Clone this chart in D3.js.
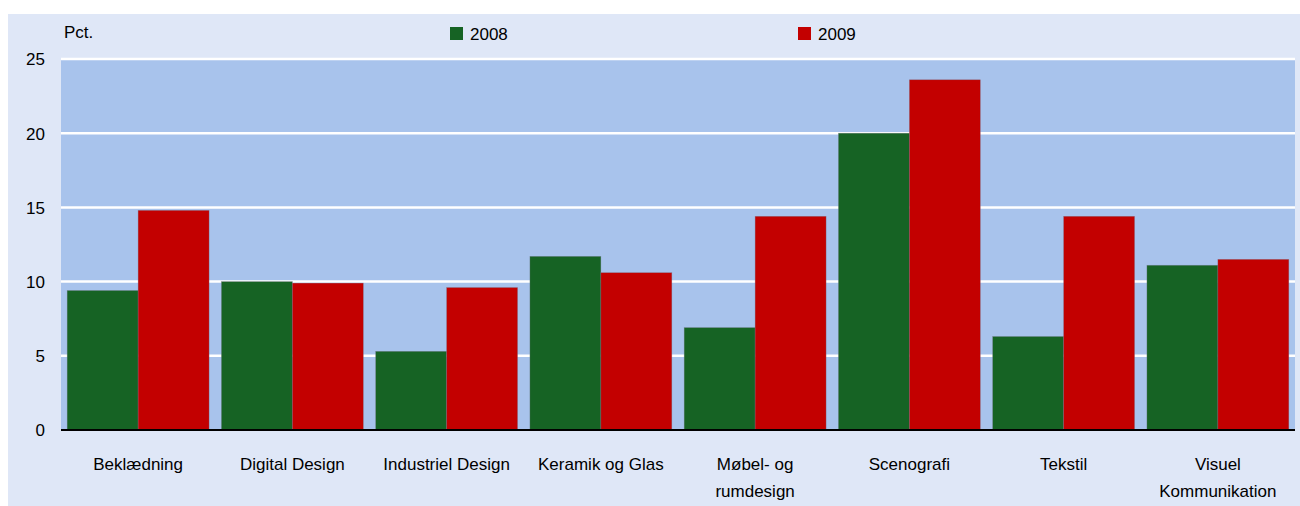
<!DOCTYPE html>
<html><head><meta charset="utf-8">
<script src="https://cdn.jsdelivr.net/npm/d3@7"></script>
<style>body{margin:0;background:#fff;}svg{display:block;font-family:"Liberation Sans",Arial,sans-serif;}</style>
</head><body>
<svg id="c" width="1300" height="506"></svg>
<script>
const categories = [["Beklædning"],["Digital Design"],["Industriel Design"],["Keramik og Glas"],["Møbel- og","rumdesign"],["Scenografi"],["Tekstil"],["Visuel","Kommunikation"]];
const series2008 = [9.4, 10.0, 5.3, 11.7, 6.9, 20.0, 6.3, 11.1];
const series2009 = [14.8, 9.9, 9.6, 10.6, 14.4, 23.6, 14.4, 11.5];
const seriesNames = ["2008", "2009"];
const yTicks = [0, 5, 10, 15, 20, 25];
const colors = ["#166324", "#c30000"];

(function(){
const svg = d3.select("#c");
svg.append("rect").attr("x",8).attr("y",14).attr("width",1292).attr("height",492).attr("fill","#dfe7f7");

const pL = 61, pR = 1295, pT = 59, pB = 430;
const x0 = d3.scaleBand().domain(d3.range(categories.length)).range([pL, pR]).paddingInner(0.08).paddingOuter(0.04);
const x1 = d3.scaleBand().domain([0,1]).range([0, x0.bandwidth()]);
const y = d3.scaleLinear().domain([0, 25]).range([pB, pT]);

svg.append("rect").attr("x",pL).attr("y",pT).attr("width",pR-pL).attr("height",pB-pT).attr("fill","#a8c3ec");

svg.append("g").selectAll("line").data(yTicks.filter(d=>d>0)).join("line")
  .attr("x1",pL).attr("x2",pR).attr("y1",d=>y(d)).attr("y2",d=>y(d))
  .attr("stroke","#fff").attr("stroke-width",2.5);

const data = categories.map((c,i)=>[series2008[i], series2009[i]]);
const g = svg.append("g");
data.forEach((vals,i)=>{
  vals.forEach((v,j)=>{
    g.append("rect").attr("x",x0(i)+x1(j)).attr("width",x1.bandwidth())
      .attr("y",y(v)).attr("height",y(0)-y(v)).attr("fill",colors[j])
      .attr("stroke","rgba(120,120,140,0.5)").attr("stroke-width",0.6);
  });
});

svg.append("line").attr("x1",pL).attr("x2",pR).attr("y1",y(0)).attr("y2",y(0)).attr("stroke","#000").attr("stroke-width",2);

const yAxis = d3.axisLeft(y).tickValues(yTicks).tickSize(0).tickPadding(0);
const ya = svg.append("g").attr("transform",`translate(45,0)`).call(yAxis);
ya.select(".domain").remove();
ya.selectAll("text").attr("font-size",17).attr("font-family","Liberation Sans, Arial, sans-serif").attr("fill","#000").attr("dy","0.35em");

svg.append("text").attr("x",64).attr("y",38).attr("font-size",17).text("Pct.");

const legX = [450, 798];
seriesNames.forEach((n,j)=>{
  svg.append("rect").attr("x",legX[j]).attr("y",27).attr("width",13).attr("height",13).attr("fill",colors[j]);
  svg.append("text").attr("x",legX[j]+20).attr("y",40).attr("font-size",17).text(n);
});

const xl = svg.append("g");
categories.forEach((lines,i)=>{
  const t = xl.append("text").attr("text-anchor","middle").attr("font-size",17).attr("fill","#000");
  lines.forEach((l,k)=>{
    t.append("tspan").attr("x",x0(i)+x0.bandwidth()/2).attr("y",470+k*27).text(l);
  });
});
})();
</script>
</body></html>
